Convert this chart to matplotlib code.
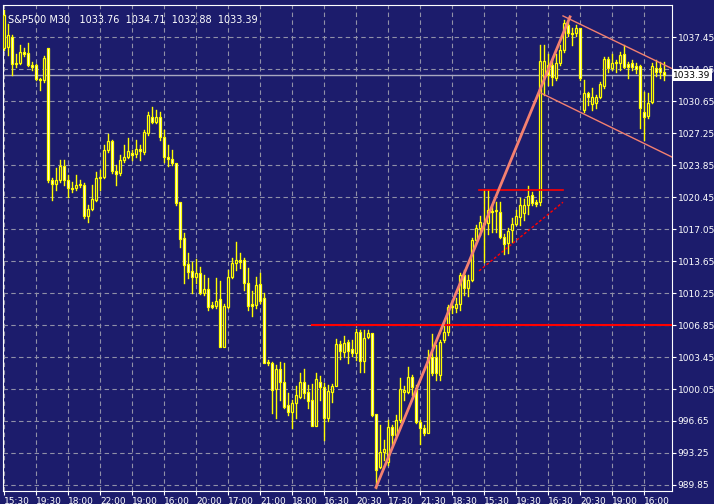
import numpy as np
import matplotlib.pyplot as plt
from matplotlib.patches import Rectangle

# S&P500 M30 candles (open, high, low, close)
opens = [1036.3, 1036.4, 1037.5, 1034.6, 1034.7, 1035.9, 1035.8, 1034.5, 1034.5, 1033.0,
         1032.9, 1036.3, 1022.3, 1021.8, 1022.3, 1023.7, 1022.3, 1021.4, 1021.4, 1021.7,
         1021.7, 1018.4, 1019.2, 1020.1, 1022.5, 1022.6, 1025.5, 1026.4, 1023.2, 1023.0,
         1024.4, 1024.7, 1025.1, 1025.0, 1025.6, 1025.2, 1027.3, 1029.0, 1028.4, 1029.0,
         1026.8, 1024.7, 1024.5, 1024.1, 1019.9, 1016.1, 1013.3, 1012.6, 1011.9, 1012.4,
         1010.3, 1010.7, 1009.0, 1008.9, 1009.6, 1004.5, 1008.8, 1011.9, 1013.4, 1013.8,
         1013.8, 1011.3, 1009.1, 1009.0, 1011.2, 1009.7, 1002.9, 1002.8, 1000.0, 1002.2,
         1000.8, 998.3, 997.6, 998.6, 999.2, 1000.8, 999.7, 998.9, 996.1, 1000.8,
         1000.3, 997.0, 999.7, 1000.4, 1004.8, 1004.0, 1005.0, 1004.3, 1003.9, 1006.1,
         1003.0, 1005.6, 1006.0, 997.4, 991.8, 993.4, 992.3, 996.0, 995.2, 996.8,
         999.7, 999.7, 1001.3, 1000.2, 996.5, 995.9, 995.4, 1003.4, 1003.4, 1001.5,
         1005.3, 1006.1, 1008.8, 1008.7, 1009.1, 1012.2, 1010.8, 1011.6, 1015.9, 1017.2,
         1017.7, 1017.7, 1019.0, 1019.0, 1018.9, 1016.2, 1015.6, 1016.9, 1017.6, 1018.3,
         1018.8, 1019.6, 1020.7, 1019.9, 1019.9, 1033.2, 1034.5, 1034.5, 1033.1, 1034.7,
         1036.1, 1038.7, 1037.9, 1037.9, 1038.4, 1029.7, 1031.5, 1030.3, 1030.4, 1031.1,
         1032.2, 1035.1, 1034.2, 1034.7, 1034.7, 1035.7, 1034.6, 1034.7, 1034.4, 1034.4,
         1029.5, 1029.1, 1030.5, 1034.2, 1034.2, 1033.7]
highs = [1040.3, 1038.8, 1037.7, 1035.7, 1036.6, 1036.3, 1036.8, 1034.8, 1034.6, 1033.1,
         1035.4, 1036.3, 1022.5, 1023.5, 1024.4, 1024.4, 1022.8, 1022.0, 1022.8, 1022.3,
         1021.9, 1019.6, 1021.7, 1023.1, 1023.3, 1026.0, 1027.1, 1026.5, 1023.9, 1024.9,
         1026.0, 1026.7, 1025.5, 1026.5, 1026.0, 1027.6, 1029.5, 1030.0, 1029.7, 1029.5,
         1027.6, 1026.0, 1025.5, 1024.1, 1019.9, 1016.6, 1014.5, 1013.5, 1013.9, 1013.0,
         1012.2, 1011.8, 1009.3, 1011.8, 1011.5, 1009.1, 1012.7, 1014.0, 1015.7, 1014.5,
         1014.0, 1012.9, 1010.5, 1011.9, 1012.4, 1010.3, 1003.1, 1002.9, 1002.6, 1002.9,
         1002.8, 999.6, 998.9, 1000.4, 1001.8, 1002.2, 1000.5, 1000.6, 1001.8, 1001.4,
         1000.7, 1000.5, 1000.6, 1005.4, 1005.1, 1005.7, 1005.3, 1005.3, 1006.4, 1006.3,
         1006.3, 1006.3, 1006.0, 997.4, 996.2, 994.6, 996.8, 996.2, 997.3, 1001.2,
         1000.4, 1002.4, 1001.5, 1000.5, 996.8, 996.2, 1004.2, 1005.9, 1004.7, 1005.3,
         1007.1, 1009.0, 1009.5, 1009.7, 1012.4, 1012.7, 1012.2, 1016.1, 1017.5, 1018.4,
         1021.2, 1021.2, 1019.6, 1019.9, 1019.9, 1016.5, 1017.2, 1018.2, 1019.1, 1020.3,
         1020.2, 1021.6, 1021.0, 1020.1, 1036.6, 1036.6, 1035.6, 1035.0, 1035.6, 1036.6,
         1039.3, 1039.3, 1038.4, 1038.7, 1038.4, 1032.9, 1031.6, 1032.0, 1031.3, 1032.7,
         1035.3, 1035.3, 1035.6, 1035.0, 1035.9, 1036.6, 1034.8, 1035.0, 1034.7, 1034.5,
         1031.6, 1031.5, 1034.7, 1035.0, 1034.8, 1034.8]
lows = [1036.1, 1035.5, 1033.4, 1034.3, 1034.6, 1035.4, 1034.4, 1034.0, 1032.9, 1031.8,
        1032.7, 1022.0, 1020.1, 1021.2, 1022.0, 1021.7, 1020.5, 1021.0, 1021.2, 1021.5,
        1018.2, 1017.8, 1019.1, 1020.0, 1021.2, 1022.5, 1025.2, 1023.0, 1021.7, 1022.8,
        1024.2, 1024.6, 1024.4, 1024.7, 1024.4, 1025.0, 1027.0, 1028.3, 1028.3, 1026.5,
        1024.2, 1023.7, 1023.9, 1019.6, 1015.1, 1011.3, 1011.8, 1010.2, 1011.3, 1010.1,
        1010.0, 1008.4, 1008.7, 1008.7, 1004.5, 1004.5, 1008.7, 1011.8, 1012.7, 1012.9,
        1010.6, 1008.4, 1007.8, 1008.7, 1009.2, 1002.8, 1002.6, 997.5, 997.0, 998.9,
        998.0, 997.3, 995.9, 997.0, 999.1, 999.1, 998.0, 996.1, 996.1, 998.9,
        994.6, 996.7, 998.7, 1000.4, 1003.2, 1003.5, 1002.8, 1003.6, 1003.1, 1001.9,
        1001.9, 1005.5, 997.2, 989.5, 991.7, 992.5, 992.0, 994.1, 995.1, 996.5,
        998.9, 999.6, 999.4, 996.4, 994.2, 995.2, 995.4, 1001.5, 1001.0, 1001.0,
        1005.0, 1005.8, 1008.1, 1008.2, 1008.4, 1010.0, 1009.9, 1011.5, 1015.7, 1016.4,
        1013.5, 1016.5, 1016.7, 1016.7, 1016.1, 1014.4, 1014.5, 1015.7, 1017.5, 1017.5,
        1018.0, 1018.6, 1019.6, 1019.5, 1019.6, 1031.3, 1032.4, 1032.4, 1032.9, 1034.5,
        1035.9, 1037.6, 1036.6, 1037.6, 1032.9, 1029.5, 1030.2, 1029.7, 1029.9, 1031.0,
        1032.0, 1033.7, 1034.0, 1033.7, 1034.0, 1034.2, 1033.1, 1034.0, 1033.6, 1027.8,
        1026.5, 1028.8, 1030.4, 1033.3, 1033.1, 1032.9]
closes = [1039.8, 1037.7, 1034.6, 1034.7, 1035.9, 1035.7, 1034.5, 1034.3, 1033.0, 1032.9,
          1035.2, 1022.3, 1021.8, 1022.3, 1023.7, 1022.3, 1021.4, 1021.3, 1021.7, 1021.8,
          1018.4, 1019.2, 1020.2, 1022.5, 1022.6, 1025.5, 1026.4, 1023.2, 1022.9, 1024.4,
          1024.7, 1025.3, 1024.9, 1025.6, 1025.3, 1027.4, 1029.2, 1028.4, 1029.0, 1026.8,
          1024.7, 1024.5, 1024.1, 1019.8, 1016.0, 1013.2, 1012.5, 1011.9, 1012.4, 1010.3,
          1010.7, 1008.8, 1008.8, 1009.4, 1004.5, 1008.9, 1011.9, 1013.4, 1013.8, 1013.6,
          1011.3, 1008.9, 1008.9, 1011.1, 1009.4, 1002.8, 1002.8, 999.9, 1002.2, 1000.8,
          998.1, 997.6, 998.6, 999.4, 1000.8, 999.6, 998.8, 996.1, 1001.1, 1000.3,
          997.0, 999.8, 1000.4, 1004.8, 1004.1, 1004.9, 1004.1, 1003.9, 1006.1, 1003.0,
          1005.5, 1006.0, 997.3, 991.4, 993.4, 993.7, 996.0, 995.2, 996.8, 1000.0,
          999.9, 1001.3, 1000.3, 996.5, 995.9, 995.4, 1003.4, 1001.7, 1001.7, 1005.0,
          1006.1, 1008.8, 1008.8, 1009.1, 1012.2, 1010.8, 1011.6, 1015.9, 1017.2, 1017.8,
          1017.6, 1019.1, 1018.9, 1019.0, 1016.2, 1015.5, 1016.8, 1017.6, 1018.4, 1019.6,
          1019.6, 1020.6, 1019.8, 1019.7, 1034.9, 1034.9, 1033.4, 1033.2, 1034.7, 1036.1,
          1038.9, 1037.9, 1037.8, 1038.4, 1033.1, 1031.5, 1031.1, 1031.1, 1031.1, 1032.5,
          1035.1, 1034.2, 1034.7, 1034.8, 1035.5, 1034.3, 1034.3, 1034.3, 1034.1, 1029.9,
          1029.0, 1030.4, 1034.4, 1033.7, 1033.7, 1033.39]

tick_labels = ["15:30", "19:30", "18:00", "22:00", "19:00", "16:00", "20:00", "17:00",
               "21:00", "18:00", "16:30", "20:30", "17:30", "21:30", "18:30", "15:30",
               "19:30", "16:30", "20:30", "19:00", "16:00"]
tick_pos = np.arange(0, 8 * len(tick_labels), 8)
price_ticks = 989.85 + 3.4 * np.arange(15)

last_price = 1033.39
resist_1 = 1006.85          # long red level
resist_2 = 1021.2           # short red level
trend_up = ([93, 141.5], [989.6, 1039.6])
support_dash = ([118.75, 139.75], [1012.6, 1019.9])
chan_upper = ([139.75, 167], [1039.7, 1034.1])
chan_lower = ([134.25, 167], [1031.5, 1024.7])

bg = "#1c1c6c"
grid_c = "#9090a8"

fig = plt.figure(figsize=(7.14, 5.04), dpi=100, facecolor=bg)
ax = fig.add_axes([3 / 714, 13 / 504, 669 / 714, 486 / 504], facecolor=bg)

for i, (o, h, l, c) in enumerate(zip(opens, highs, lows, closes)):
    top, bot = max(o, c), min(o, c)
    ax.plot([i, i], [bot, l], color="yellow", lw=1, zorder=3)
    ax.plot([i, i], [top, h], color="yellow", lw=1, zorder=3)
    fill = "white" if c < o else bg
    ax.add_patch(Rectangle((i - 0.35, bot), 0.7, max(top - bot, 0.08),
                           facecolor=fill, edgecolor="yellow", lw=0.9, zorder=4))

ax.axhline(last_price, color="#a8a8c0", lw=1, zorder=2)
ax.plot([77, 167], [resist_1, resist_1], color="red", lw=1.5, zorder=5)
ax.plot([118.75, 139.75], [resist_2, resist_2], color="red", lw=1.2, zorder=5)
ax.plot(*support_dash, color="red", lw=1, ls=(0, (2, 1.5)), zorder=5)
ax.plot(*trend_up, color="#f48070", lw=2, zorder=5)
ax.plot(*chan_upper, color="#f48070", lw=1, zorder=5)
ax.plot(*chan_lower, color="#f48070", lw=1, zorder=5)

ax.set_xlim(-0.25, 167)
ax.set_ylim(989.21, 1040.86)
ax.set_xticks(tick_pos)
ax.set_xticklabels(tick_labels, ha="left")
ax.set_yticks(price_ticks)
ax.set_yticklabels([f"{p:.2f}" for p in price_ticks])
ax.yaxis.tick_right()
ax.tick_params(colors="white", labelsize=6.5, length=3, pad=1)
ax.grid(True, color=grid_c, ls=(0, (4, 3)), lw=0.8)
ax.set_axisbelow(True)
for s in ax.spines.values():
    s.set_color("white")

ax.text(1, 1038.9, "S&P500 M30   1033.76  1034.71  1032.88  1033.39",
        color="white", fontsize=7, zorder=6)
ax.text(1.002, last_price, f"{last_price:.2f}", transform=ax.get_yaxis_transform(),
        color="black", fontsize=6.5, va="center", ha="left",
        bbox=dict(facecolor="white", edgecolor="none", pad=1.0), clip_on=False)

fig.savefig("out.png", dpi=100, facecolor=bg)
